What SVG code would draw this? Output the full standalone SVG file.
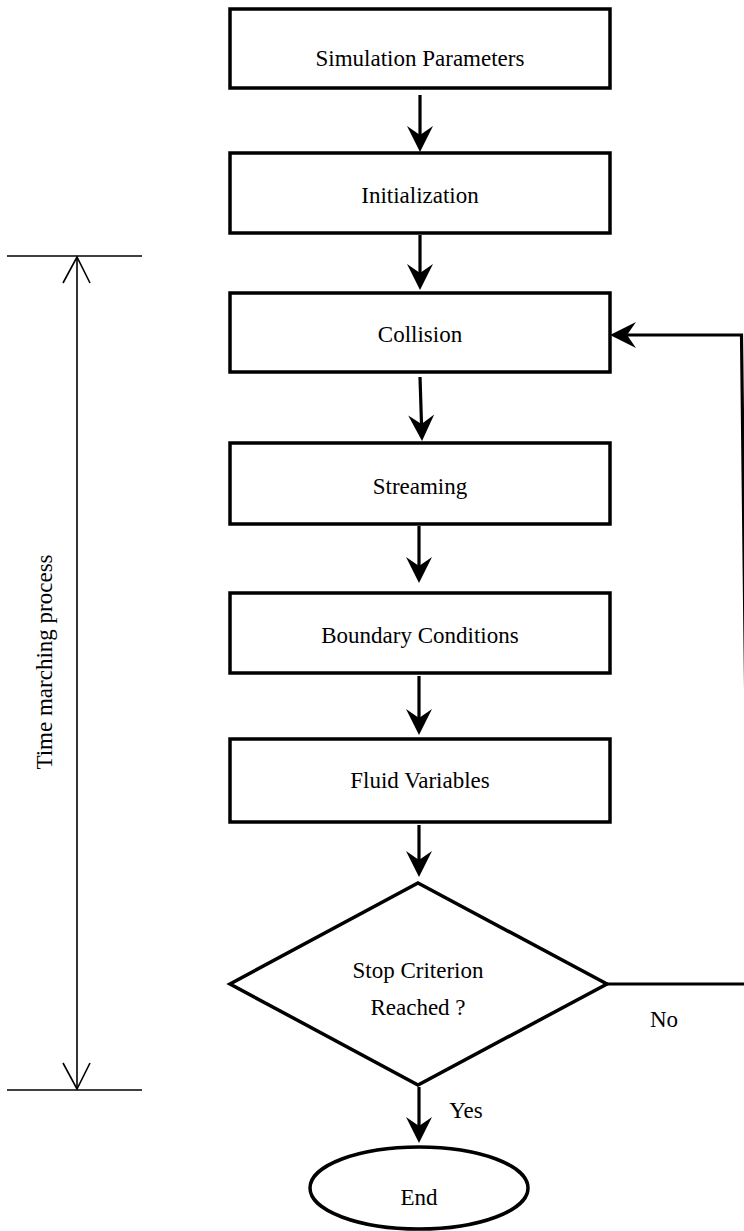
<svg xmlns="http://www.w3.org/2000/svg" width="744" height="1231" viewBox="0 0 744 1231" font-family="'Liberation Serif', 'Times New Roman', serif">
<style>
.box{fill:#fff;stroke:#000;stroke-width:3.5}
.lbl{font-family:"Liberation Serif","Times New Roman",serif;font-size:23px;fill:#000;text-anchor:middle}
.con{fill:none;stroke:#000;stroke-width:3.2}
.thin{fill:none;stroke:#000;stroke-width:1.6}
</style>
<defs>
<marker id="ah" markerUnits="userSpaceOnUse" markerWidth="40" markerHeight="40" refX="0" refY="0" orient="auto" overflow="visible">
<path d="M17,0 L-9,-13 L0,0 L-9,13 Z" fill="#000"/>
</marker>
</defs>
<rect width="744" height="1231" fill="#fff"/>

<g id="time-marching">
<line class="thin" x1="7" y1="256" x2="142" y2="256"/>
<line class="thin" x1="7" y1="1090" x2="142" y2="1090"/>
<line class="thin" x1="77" y1="257" x2="77" y2="1089"/>
<polyline class="thin" points="63,283 77,257 90,283"/>
<polyline class="thin" points="63,1063 77,1089 90,1063"/>
<text class="lbl" transform="translate(52,662) rotate(-90)">Time marching process</text>
</g>

<g id="connectors">
<line class="con" x1="420" y1="95" x2="420" y2="135" marker-end="url(#ah)"/>
<line class="con" x1="420" y1="235" x2="420" y2="273" marker-end="url(#ah)"/>
<line class="con" x1="420" y1="377" x2="421.5" y2="424" marker-end="url(#ah)"/>
<line class="con" x1="419" y1="526" x2="419" y2="566" marker-end="url(#ah)"/>
<line class="con" x1="419" y1="676" x2="419" y2="718" marker-end="url(#ah)"/>
<line class="con" x1="419" y1="825" x2="419" y2="860" marker-end="url(#ah)"/>
<line class="con" x1="419" y1="1087" x2="419" y2="1126" marker-end="url(#ah)"/>
<path class="con" d="M607,984 H749 L741.5,335 H627" marker-end="url(#ah)"/>
<text class="lbl" x="664" y="1027">No</text>
<text class="lbl" x="466" y="1118">Yes</text>
</g>

<g id="node-simulation">
<rect class="box" x="230" y="9" width="380" height="79"/>
<text class="lbl" x="420" y="66">Simulation Parameters</text>
</g>
<g id="node-initialization">
<rect class="box" x="230" y="153" width="380" height="80"/>
<text class="lbl" x="420" y="203">Initialization</text>
</g>
<g id="node-collision">
<rect class="box" x="230" y="293" width="380" height="79"/>
<text class="lbl" x="420" y="342">Collision</text>
</g>
<g id="node-streaming">
<rect class="box" x="230" y="443" width="380" height="81"/>
<text class="lbl" x="420" y="494">Streaming</text>
</g>
<g id="node-boundary">
<rect class="box" x="230" y="593" width="380" height="80"/>
<text class="lbl" x="420" y="643">Boundary Conditions</text>
</g>
<g id="node-fluid">
<rect class="box" x="230" y="739" width="380" height="83"/>
<text class="lbl" x="420" y="788">Fluid Variables</text>
</g>
<g id="node-stop">
<polygon class="box" points="418,883 607,984 418,1085 230,984"/>
<text class="lbl" x="418" y="978">Stop Criterion</text>
<text class="lbl" x="418" y="1015">Reached ?</text>
</g>
<g id="node-end">
<ellipse class="box" cx="419" cy="1188" rx="109" ry="41"/>
<text class="lbl" x="419" y="1205">End</text>
</g>
</svg>
